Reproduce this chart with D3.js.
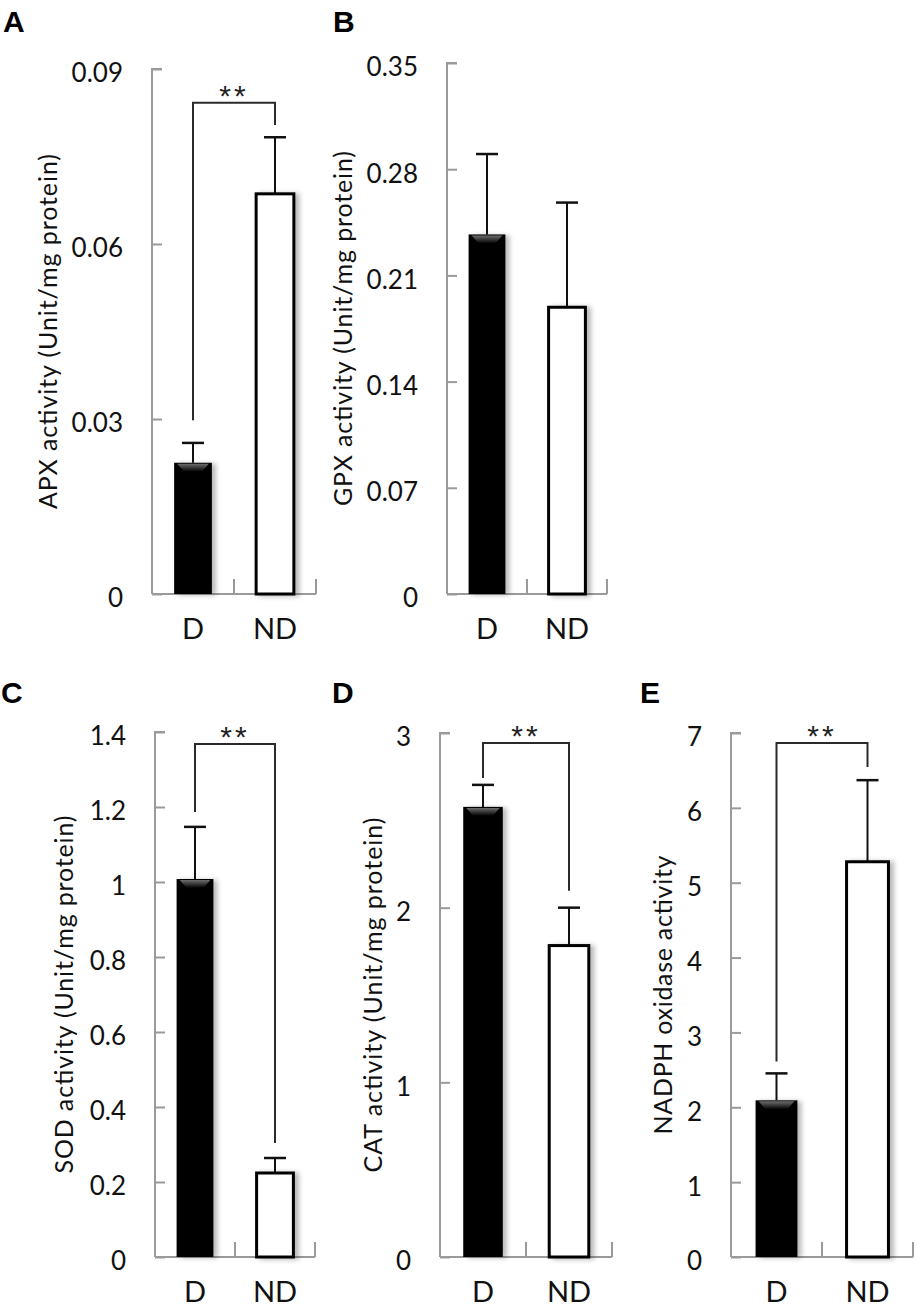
<!DOCTYPE html>
<html>
<head>
<meta charset="utf-8">
<script src="https://cdn.jsdelivr.net/npm/d3@7"></script>
<style>
  body { margin: 0; background: #fff; }
  svg { display: block; font-family: Lato, 'Open Sans', sans-serif; }
</style>
</head>
<body>
<svg width="917" height="1312"></svg>
<script>
// groups on the x axis
let groups = ['D', 'ND']

// means and error (upper half) per panel
let apxValues = [0.0225, 0.0686], apxErrors = [0.0034, 0.0097]
let gpxValues = [0.237, 0.189], gpxErrors = [0.053, 0.069]
let sodValues = [1.008, 0.224], sodErrors = [0.139, 0.040]
let catValues = [2.577, 1.783], catErrors = [0.126, 0.217]
let noxValues = [2.093, 5.28], noxErrors = [0.36, 1.09]

// tick values
let apxTicks = [0, 0.03, 0.06, 0.09]
let gpxTicks = [0, 0.07, 0.14, 0.21, 0.28, 0.35]
let sodTicks = [0, 0.2, 0.4, 0.6, 0.8, 1, 1.2, 1.4]
let catTicks = [0, 1, 2, 3]
let noxTicks = [0, 1, 2, 3, 4, 5, 6, 7]

// significance bracket: [top, left leg end, right leg end] in data units
let apxSig = [0.0842, 0.0298, 0.0804]
let sodSig = [1.368, 1.187, 0.304]
let catSig = [2.943, 2.743, 2.097]
let noxSig = [6.867, 2.613, 6.547]

let panels = [
  { letter: 'A', title: 'APX activity (Unit/mg protein)', values: apxValues, errors: apxErrors, ticks: apxTicks, sig: apxSig,
    x0: 152, x1: 316, yTop: 69, y0: 594, titleX: 57, titleLen: 355, letterX: 3, letterY: 32 },
  { letter: 'B', title: 'GPX activity (Unit/mg protein)', values: gpxValues, errors: gpxErrors, ticks: gpxTicks, sig: null,
    x0: 447, x1: 607, yTop: 63, y0: 594, titleX: 352, titleLen: 355, letterX: 333, letterY: 32 },
  { letter: 'C', title: 'SOD activity (Unit/mg protein)', values: sodValues, errors: sodErrors, ticks: sodTicks, sig: sodSig,
    x0: 155, x1: 315, yTop: 732, y0: 1257, titleX: 73, titleLen: 358, letterX: 1, letterY: 703 },
  { letter: 'D', title: 'CAT activity (Unit/mg protein)', values: catValues, errors: catErrors, ticks: catTicks, sig: catSig,
    x0: 440, x1: 612, yTop: 733, y0: 1257, titleX: 382, titleLen: 355, letterX: 332, letterY: 703 },
  { letter: 'E', title: 'NADPH oxidase activity', values: noxValues, errors: noxErrors, ticks: noxTicks, sig: noxSig,
    x0: 731, x1: 913, yTop: 733, y0: 1257, titleX: 672, titleLen: 279, letterX: 640, letterY: 703 }
]

let svg = d3.select('svg')
let defs = svg.append('defs')

// soft shadow on the right of each bar
let shadow = defs.append('filter').attr('id', 'shadow')
  .attr('x', '-20%').attr('y', '-5%').attr('width', '160%').attr('height', '115%')
shadow.append('feDropShadow')
  .attr('dx', 4).attr('dy', 1).attr('stdDeviation', 2.5)
  .attr('flood-color', '#000').attr('flood-opacity', 0.28)

// little grey sheen at the top of the black bars
let sheen = defs.append('linearGradient').attr('id', 'sheen')
  .attr('x1', 0).attr('y1', 0).attr('x2', 0).attr('y2', 1)
sheen.append('stop').attr('offset', '0%').attr('stop-color', '#6e6e6e')
sheen.append('stop').attr('offset', '100%').attr('stop-color', '#000')

let axisColor = '#9a9a9a'

panels.forEach(function (p) {
  let max = p.ticks[p.ticks.length - 1]
  let y = d3.scaleLinear().domain([0, max]).range([p.y0, p.yTop])
  let x = d3.scaleBand().domain(groups).range([p.x0, p.x1])
    .paddingInner(0.54).paddingOuter(0.27)
  let step = x.step()

  let g = svg.append('g')

  // panel letter
  g.append('text')
    .attr('x', p.letterX).attr('y', p.letterY)
    .style('font-family', "'Liberation Sans', Arial, sans-serif")
    .style('font-weight', 'bold').style('font-size', '30px')
    .text(p.letter)

  // y axis
  let yAxis = g.append('g')
    .attr('transform', `translate(${p.x0},0)`)
    .call(d3.axisRight(y).tickValues(p.ticks).tickSize(10).tickFormat(''))
  yAxis.selectAll('path, line').attr('stroke', axisColor).attr('stroke-width', 2)
  yAxis.select('.domain').attr('d', `M10,${p.yTop}H0V${p.y0}`)

  // tick labels
  g.selectAll('.tl').data(p.ticks).enter().append('text')
    .attr('class', 'tl')
    .attr('x', p.x0 - 29)
    .attr('y', function (d) { return y(d) + 4 })
    .attr('dy', '0.36em')
    .attr('text-anchor', 'end')
    .style('font-size', '26px').style('fill', '#111')
    .text(function (d) { return d3.format('~g')(d) })

  // x axis: line with upward ticks between categories
  let xAxis = g.append('g').attr('transform', `translate(0,${p.y0})`)
  xAxis.append('line')
    .attr('x1', p.x0).attr('x2', p.x1)
    .attr('stroke', axisColor).attr('stroke-width', 2)
  xAxis.selectAll('.xt').data([p.x0 + step, p.x1]).enter().append('line')
    .attr('x1', function (d) { return d }).attr('x2', function (d) { return d })
    .attr('y1', 0).attr('y2', -15)
    .attr('stroke', axisColor).attr('stroke-width', 2)

  // category labels
  xAxis.selectAll('.xl').data(groups).enter().append('text')
    .attr('x', function (d) { return x(d) + x.bandwidth() / 2 })
    .attr('y', 45)
    .attr('text-anchor', 'middle')
    .style('font-size', '29px').style('fill', '#111')
    .text(function (d) { return d })

  // y title
  g.append('text')
    .attr('transform', `translate(${p.titleX},${(p.yTop + p.y0) / 2}) rotate(-90)`)
    .attr('text-anchor', 'middle')
    .attr('textLength', p.titleLen)
    .attr('lengthAdjust', 'spacing')
    .style('font-size', '25px').style('fill', '#111')
    .text(p.title)

  // error bars (upper half only)
  let eb = g.selectAll('.eb').data(groups).enter().append('g')
  eb.append('line')
    .attr('x1', function (d) { return x(d) + x.bandwidth() / 2 })
    .attr('x2', function (d) { return x(d) + x.bandwidth() / 2 })
    .attr('y1', function (d, i) { return y(p.values[i]) })
    .attr('y2', function (d, i) { return y(p.values[i] + p.errors[i]) })
    .attr('stroke', '#111').attr('stroke-width', 2)
  eb.append('line')
    .attr('x1', function (d) { return x(d) + x.bandwidth() / 2 - 11 })
    .attr('x2', function (d) { return x(d) + x.bandwidth() / 2 + 11 })
    .attr('y1', function (d, i) { return y(p.values[i] + p.errors[i]) })
    .attr('y2', function (d, i) { return y(p.values[i] + p.errors[i]) })
    .attr('stroke', '#111').attr('stroke-width', 2.5)

  // bars
  g.selectAll('.bar').data(groups).enter().append('rect')
    .attr('x', function (d) { return x(d) })
    .attr('y', function (d, i) { return y(p.values[i]) })
    .attr('width', x.bandwidth())
    .attr('height', function (d, i) { return p.y0 - y(p.values[i]) })
    .attr('fill', function (d, i) { return i === 0 ? '#000' : '#fff' })
    .attr('stroke', '#000')
    .attr('stroke-width', function (d, i) { return i === 0 ? 0 : 3 })
    .attr('filter', 'url(#shadow)')

  // sheen on the black bar
  let bx = x(groups[0]), bw = x.bandwidth(), by = y(p.values[0])
  g.append('polygon')
    .attr('points', [[bx + 3, by + 1], [bx + bw - 3, by + 1], [bx + bw - 10, by + 9], [bx + 10, by + 9]].join(' '))
    .attr('fill', 'url(#sheen)')

  // significance bracket
  if (p.sig) {
    let xl = x(groups[0]) + x.bandwidth() / 2
    let xr = x(groups[1]) + x.bandwidth() / 2
    g.append('path')
      .attr('d', `M${xl},${y(p.sig[1])}V${y(p.sig[0])}H${xr}V${y(p.sig[2])}`)
      .attr('fill', 'none').attr('stroke', '#2a2a2a').attr('stroke-width', 2)
    g.append('text')
      .attr('x', (xl + xr) / 2).attr('y', y(p.sig[0]) + 3)
      .attr('text-anchor', 'middle')
      .style('font-family', "'Liberation Sans', Arial, sans-serif")
      .style('font-size', '30px').style('letter-spacing', '3px').style('fill', '#222')
      .text('**')
  }
})
</script>
</body>
</html>
